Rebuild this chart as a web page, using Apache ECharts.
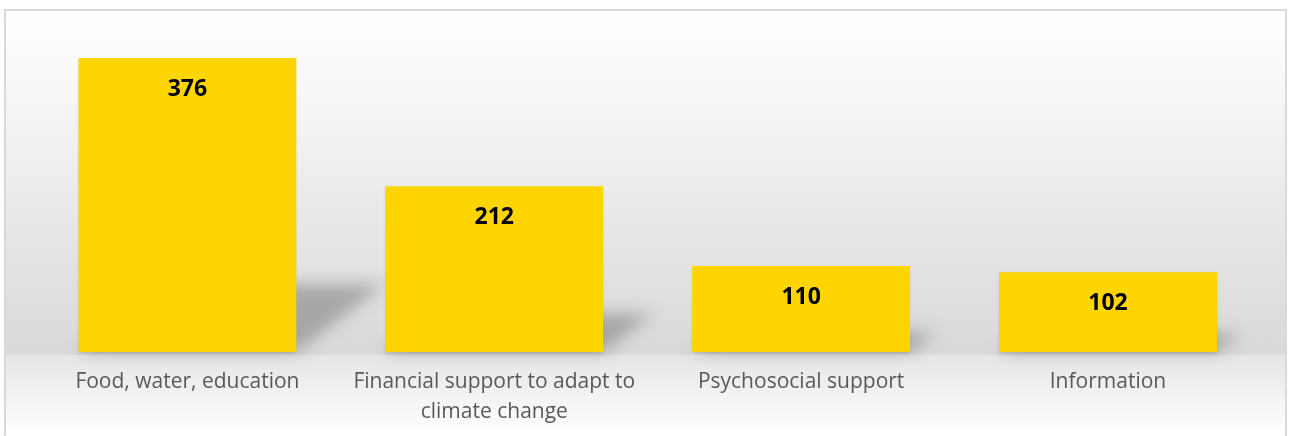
<!DOCTYPE html>
<html>
<head>
<meta charset="utf-8">
<script src="https://cdn.jsdelivr.net/npm/echarts@6/dist/echarts.min.js"></script>
<style>
  html, body { margin: 0; padding: 0; background: #fff; }
  #frame {
    position: absolute; left: 4px; top: 9px; width: 1283px; height: 440px;
    border: 2px solid #d9d9d9; box-sizing: border-box;
    background: linear-gradient(to bottom, #ffffff 0px, #f6f6f6 90px, #e3e3e3 250px, #d9d9d9 343px, #e5e5e5 344px, #f3f3f3 385px, #ffffff 425px);
  }
  #chart { position: absolute; left: 0; top: 0; width: 1290px; height: 436px; }
</style>
</head>
<body>
<div id="frame"></div>
<div id="chart"></div>
<script>
const categories = ['Food, water, education', 'Financial support to adapt to\nclimate change', 'Psychosocial support', 'Information']
const values = [376, 212, 110, 102]

const chart = echarts.init(document.getElementById('chart'))

// soft perspective shadow behind each bar: the shape is drawn off screen
// and only its blurred canvas shadow is shifted back into place
const OFF = 3000
const renderShadow = (params, api) => {
  const base = api.coord([api.value(0), 0])
  const top = api.coord([api.value(0), api.value(1)])
  const w = api.size([1, 0])[0] * 0.71
  const h = base[1] - top[1]
  const skew = h * 0.3
  const rise = h * 0.23
  return {
    type: 'polygon',
    shape: {
      points: [
        [base[0] - w / 2 - OFF, base[1]],
        [base[0] + w / 2 - OFF, base[1]],
        [base[0] + w / 2 + skew - OFF, base[1] - rise],
        [base[0] - w / 2 + skew - OFF, base[1] - rise]
      ]
    },
    style: {
      fill: '#000',
      shadowBlur: 16,
      shadowOffsetX: OFF,
      shadowColor: 'rgba(80,80,80,0.38)'
    }
  }
}

const options = {
  animation: false,
  grid: { left: 34, right: 28.6, top: 39.2, bottom: 84 },
  xAxis: {
    type: 'category',
    data: categories,
    axisLine: { show: false },
    axisTick: { show: false },
    axisLabel: {
      color: '#595959',
      fontFamily: 'Open Sans',
      fontSize: 21,
      lineHeight: 30,
      margin: 15,
      interval: 0
    }
  },
  yAxis: {
    type: 'value',
    min: 0,
    max: 400,
    show: false,
    splitLine: { show: false }
  },
  series: [
    {
      type: 'custom',
      renderItem: renderShadow,
      data: values.map((v, i) => [i, v]),
      clip: false,
      z: 1,
      silent: true
    },
    {
      type: 'bar',
      data: values,
      barWidth: '71%',
      z: 2,
      itemStyle: {
        color: '#FFD500',
        shadowColor: 'rgba(0,0,0,0.12)',
        shadowBlur: 3,
        shadowOffsetY: 2
      },
      label: {
        show: true,
        position: 'insideTop',
        distance: 20,
        color: '#000',
        fontFamily: 'Open Sans',
        fontWeight: 'bold',
        fontSize: 23
      }
    }
  ]
}

chart.setOption(options)
</script>
</body>
</html>
